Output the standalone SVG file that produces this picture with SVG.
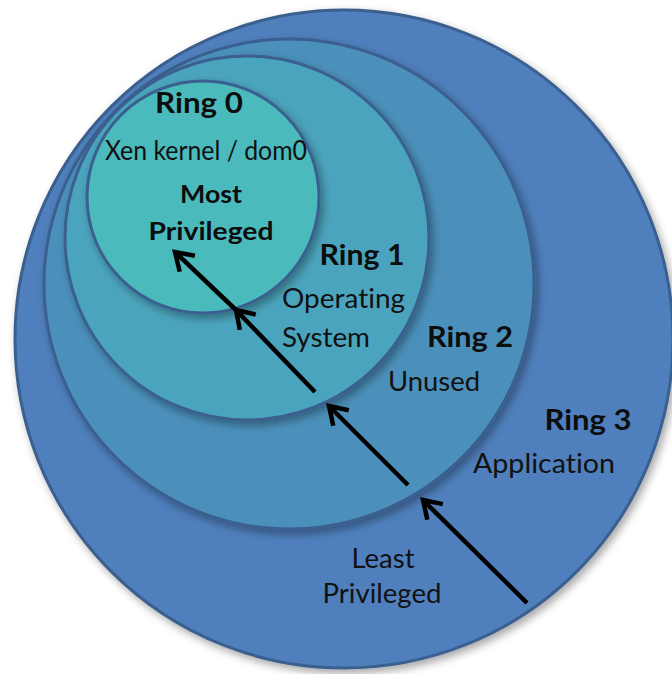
<svg xmlns="http://www.w3.org/2000/svg" width="672" height="674" viewBox="0 0 672 674">
  <defs>
    <filter id="soft-shadow" x="-10%" y="-10%" width="120%" height="120%">
      <feGaussianBlur in="SourceAlpha" stdDeviation="4"/>
      <feOffset dx="3" dy="4" result="blur"/>
      <feFlood flood-color="#000" flood-opacity="0.35"/>
      <feComposite in2="blur" operator="in"/>
      <feMerge>
        <feMergeNode/>
        <feMergeNode in="SourceGraphic"/>
      </feMerge>
    </filter>
    <marker id="open-head" viewBox="-22 -16 26 32" markerWidth="26" markerHeight="32" refX="0" refY="0" orient="auto" markerUnits="userSpaceOnUse">
      <path d="M-17,-11 L0,0 L-17,11" fill="none" stroke="#000" stroke-width="4.5" stroke-linejoin="miter" stroke-linecap="butt"/>
    </marker>
    <style>
      .ring { stroke: #3a5f8e; stroke-width: 3; filter: url(#soft-shadow); }
      text { font-family: Lato, "Open Sans", sans-serif; font-variant-ligatures: none; text-anchor: middle; }
      .title { font-weight: bold; font-size: 29px; fill: #0d0d0d; }
      .label { font-size: 26px; fill: #111; }
      .label-b { font-weight: bold; font-size: 25px; fill: #0d0d0d; }
      .arrow { stroke: #000; stroke-width: 4.5; fill: none; marker-end: url(#open-head); }
    </style>
  </defs>

  <!-- privilege rings, outermost first -->
  <g id="ring3">
    <circle class="ring" cx="344" cy="339" r="329" fill="#4f80bd"/>
  </g>
  <g id="ring2">
    <circle class="ring" cx="289" cy="284" r="245" fill="#4b90bb"/>
  </g>
  <g id="ring1">
    <circle class="ring" cx="247" cy="238" r="182" fill="#4ca4bd"/>
  </g>
  <g id="ring0">
    <circle class="ring" cx="203" cy="197" r="116" fill="#4bbabd"/>
  </g>

  <!-- labels -->
  <g id="ring0-labels">
    <text class="title" x="199" y="113" textLength="88" lengthAdjust="spacingAndGlyphs">Ring 0</text>
    <text class="label" x="206" y="160" textLength="202" lengthAdjust="spacingAndGlyphs">Xen kernel / dom0</text>
    <text class="label-b" x="211" y="203" textLength="62" lengthAdjust="spacingAndGlyphs">Most</text>
    <text class="label-b" x="211" y="240" textLength="125" lengthAdjust="spacingAndGlyphs">Privileged</text>
  </g>
  <g id="ring1-labels">
    <text class="title" x="362" y="265" textLength="85" lengthAdjust="spacingAndGlyphs">Ring 1</text>
    <text class="label" x="282" y="308" style="text-anchor:start" textLength="123" lengthAdjust="spacingAndGlyphs">Operating</text>
    <text class="label" x="282" y="347" style="text-anchor:start" textLength="88" lengthAdjust="spacingAndGlyphs">System</text>
  </g>
  <g id="ring2-labels">
    <text class="title" x="470" y="347" textLength="86" lengthAdjust="spacingAndGlyphs">Ring 2</text>
    <text class="label" x="434" y="391" textLength="92" lengthAdjust="spacingAndGlyphs">Unused</text>
  </g>
  <g id="ring3-labels">
    <text class="title" x="588" y="430" textLength="87" lengthAdjust="spacingAndGlyphs">Ring 3</text>
    <text class="label" x="544" y="473" textLength="142" lengthAdjust="spacingAndGlyphs">Application</text>
    <text class="label" x="383" y="568" textLength="63" lengthAdjust="spacingAndGlyphs">Least</text>
    <text class="label" x="382" y="603" textLength="119" lengthAdjust="spacingAndGlyphs">Privileged</text>
  </g>

  <!-- privilege escalation arrows -->
  <g id="connectors">
    <line class="arrow" x1="527" y1="603" x2="423" y2="500"/>
    <line class="arrow" x1="408" y1="485" x2="329" y2="406"/>
    <line class="arrow" x1="315" y1="392" x2="236" y2="310"/>
    <line class="arrow" x1="236" y1="310" x2="175" y2="252"/>
  </g>
</svg>
